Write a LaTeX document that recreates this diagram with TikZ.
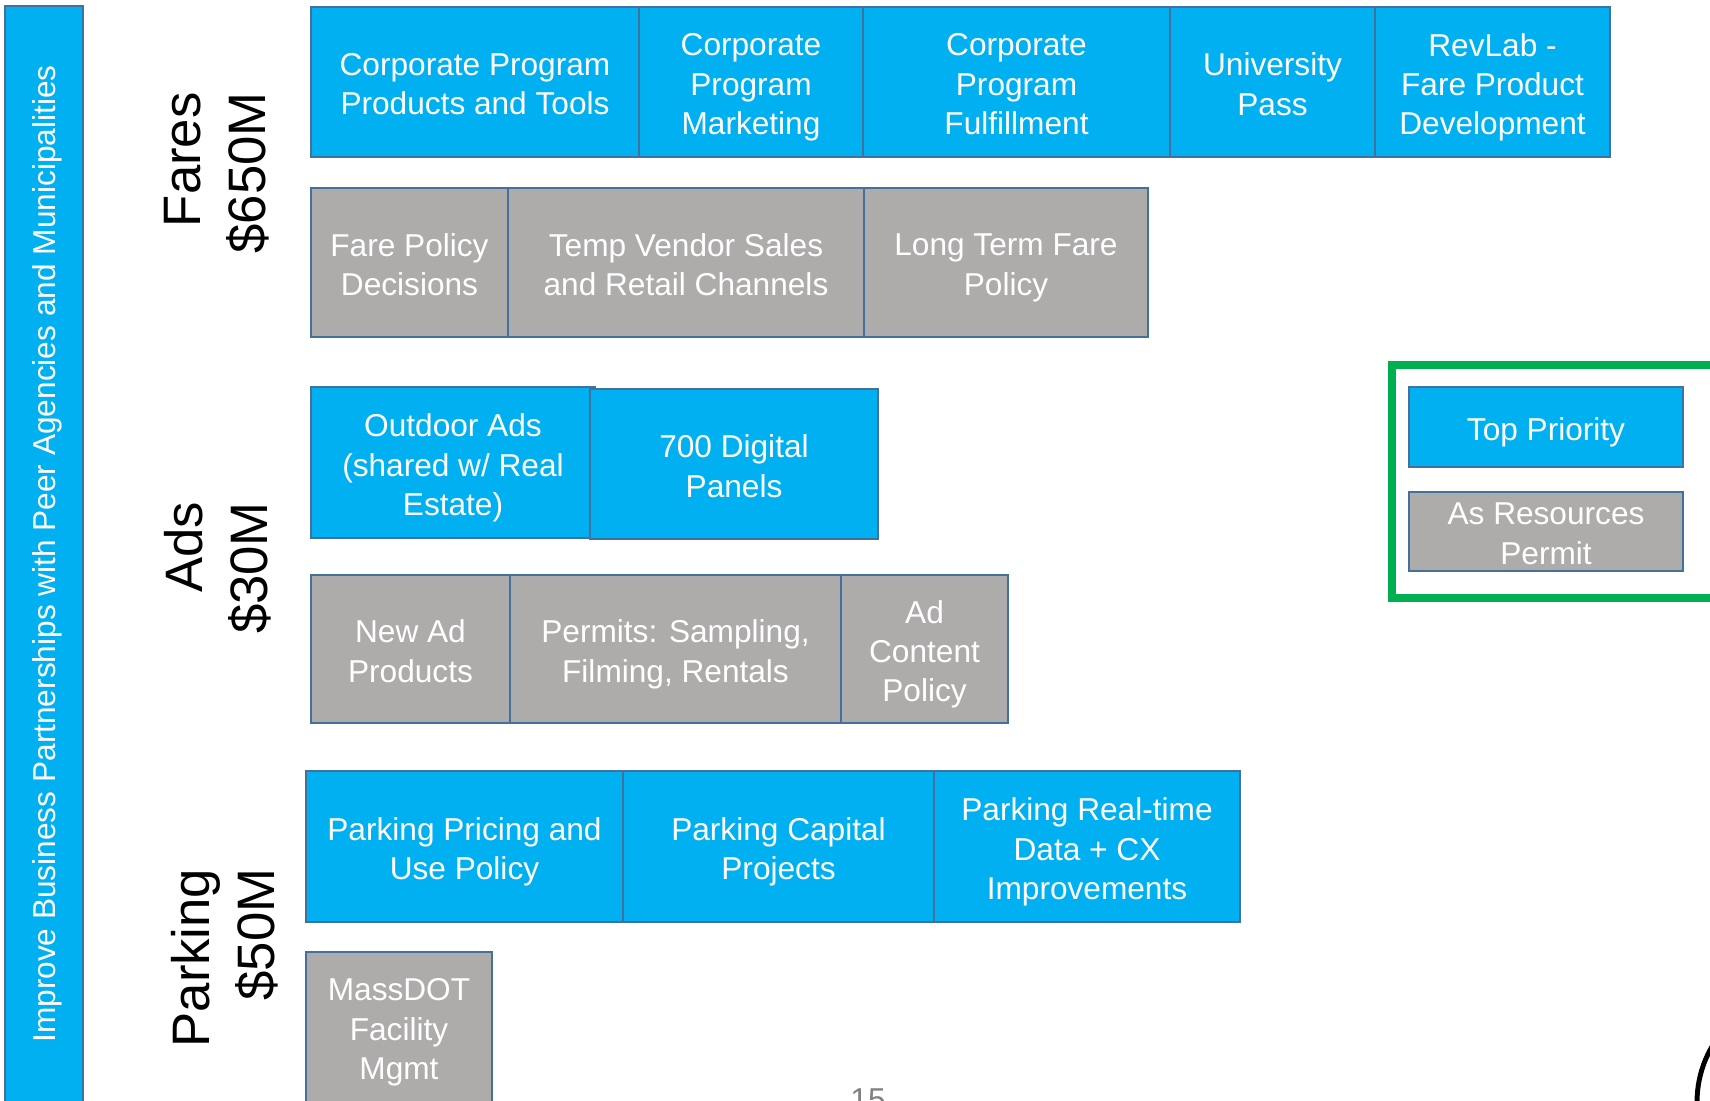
\documentclass[tikz,border=0pt]{standalone}
\usepackage{fontspec}
\setmainfont{Liberation Sans}
\usepackage{xcolor}
\usepackage{tikz}

\definecolor{tileblue}{HTML}{00B0F0}
\definecolor{tilegray}{HTML}{AEABAB}
\definecolor{tileedge}{HTML}{41719C}
\definecolor{keygreen}{HTML}{00B050}

% box from (x1,y1) to (x2,y2), pixel units, text set a touch low
\newcommand{\tile}[7]{%
  \node[#1, minimum width={(#5-#3)*0.02cm}, minimum height={(#6-#4)*0.02cm}]
    (#2) at ({(#3+#5)/2},{(#4+#6)/2}) {};
  \node[tiletext] (#2-txt) at ([yshift=-1.2pt]#2.center) {#7};}

\begin{document}
\begin{tikzpicture}[x=0.02cm, y=-0.02cm,
    tile/.style={draw=tileedge, line width=1.1pt, inner sep=0pt},
    tiletext/.style={text=white, align=center, inner sep=0pt, text depth=0pt,
      font=\fontsize{18}{22.4}\selectfont},
    hiprio/.style={tile, fill=tileblue},
    spare/.style={tile, fill=tilegray},
    budget/.style={rotate=90, align=right, inner sep=0pt,
      font=\fontsize{30}{37}\selectfont}]
  \useasboundingbox (0,0) rectangle (1710,1100);
  \clip (0,0) rectangle (1710,1100);

  % --- Side bar ---
  \node[hiprio, tiletext, rotate=90, minimum width=1096*0.02cm,
    minimum height=78*0.02cm] (partner) at (44,554)
    {Improve Business Partnerships with Peer Agencies and Municipalities};

  % --- Fares ---
  \node[budget] (fares) at (217,173) {Fares\\\$650M};
  \tile{hiprio}{fp1}{311}{7}{639}{157}{Corporate Program\\Products and Tools}
  \tile{hiprio}{fp2}{639}{7}{863}{157}{Corporate\\Program\\Marketing}
  \tile{hiprio}{fp3}{863}{7}{1170}{157}{Corporate\\Program\\Fulfillment}
  \tile{hiprio}{fp4}{1170}{7}{1375}{157}{University\\Pass}
  \tile{hiprio}{fp5}{1375}{7}{1610}{157}{RevLab -\\Fare Product\\Development}
  \tile{spare}{fs1}{311}{188}{508}{337}{Fare Policy\\Decisions}
  \tile{spare}{fs2}{508}{188}{864}{337}{Temp Vendor Sales\\and Retail Channels}
  \tile{spare}{fs3}{864}{188}{1148}{337}{Long Term Fare\\Policy}

  % --- Ads ---
  \node[budget] (ads) at (218,568) {Ads\\\$30M};
  \tile{hiprio}{ap1}{311}{387}{595}{538}{Outdoor Ads\\(shared w/ Real\\Estate)}
  \tile{hiprio}{ap2}{590}{389}{878}{539}{700 Digital\\Panels}
  \tile{spare}{as1}{311}{575}{510}{723}{New Ad\\Products}
  \tile{spare}{as2}{510}{575}{841}{723}{Permits: Sampling,\\Filming, Rentals}
  \tile{spare}{as3}{841}{575}{1008}{723}{Ad\\Content\\Policy}

  % --- Parking ---
  \node[budget] (parking) at (225,958) {Parking\\\$50M};
  \tile{hiprio}{pp1}{306}{771}{623}{922}{Parking Pricing and\\Use Policy}
  \tile{hiprio}{pp2}{623}{771}{934}{922}{Parking Capital\\Projects}
  \tile{hiprio}{pp3}{934}{771}{1240}{922}{Parking Real-time\\Data + CX\\Improvements}
  \tile{spare}{ps1}{306}{952}{492}{1102}{MassDOT\\Facility\\Mgmt}

  % --- Key ---
  \draw[keygreen, line width=4.5pt] (1720,365) -- (1392,365) -- (1392,598) -- (1720,598);
  \tile{hiprio}{key1}{1409}{387}{1683}{467}{Top Priority}
  \tile{spare}{key2}{1409}{492}{1683}{571}{As Resources\\Permit}

  % page number and logo edge
  \node[text=gray, inner sep=0pt, anchor=north, font=\fontsize{18}{20}\selectfont]
    (pagenum) at (868,1088) {15};
  \draw[line width=2.8pt] (1807,1102) circle (2.2cm);
\end{tikzpicture}
\end{document}
